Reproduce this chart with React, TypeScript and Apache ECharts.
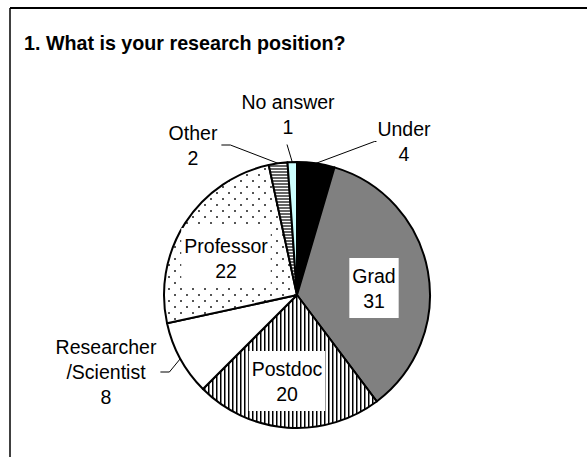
import React, { useEffect, useRef } from "react";
import * as echarts from "echarts";

// ---- data ----
const categories = ["Under", "Grad", "Postdoc", "Researcher\n/Scientist", "Professor", "Other", "No answer"];
const counts = [4, 31, 20, 8, 22, 2, 1];
const titleText = "1. What is your research position?";

// ---- layout (label centres, px) ----
const labelCenters: [number, number][] = [
  [404, 141.5],
  [374, 288],
  [287, 381],
  [106, 372],
  [226, 258],
  [193, 145],
  [288, 114.5],
];
// "in" = label inside slice with white box; others indicate side the leader line leaves
const labelSide = ["left", "in", "in", "right", "in", "right", "bottom"];

const FONT = "'Liberation Sans', Arial, Helvetica, sans-serif";

function makeCanvas(w: number, h: number, draw: (ctx: CanvasRenderingContext2D) => void) {
  const c = document.createElement("canvas");
  c.width = w;
  c.height = h;
  const ctx = c.getContext("2d")!;
  draw(ctx);
  return c;
}

function buildFills(): any[] {
  const vStripes = makeCanvas(4, 4, (ctx) => {
    ctx.fillStyle = "#fff";
    ctx.fillRect(0, 0, 4, 4);
    ctx.fillStyle = "#000";
    ctx.fillRect(0, 0, 1, 4);
    ctx.fillStyle = "#808080";
    ctx.fillRect(1, 0, 1, 4);
  });
  const dots = makeCanvas(12, 12, (ctx) => {
    ctx.fillStyle = "#fff";
    ctx.fillRect(0, 0, 12, 12);
    ctx.fillStyle = "#555";
    ctx.fillRect(0, 0, 2, 2);
    ctx.fillRect(6, 6, 2, 2);
  });
  const hStripes = makeCanvas(3, 3, (ctx) => {
    ctx.fillStyle = "#fff";
    ctx.fillRect(0, 0, 3, 3);
    ctx.fillStyle = "#666";
    ctx.fillRect(0, 0, 3, 2);
  });
  const pat = (c: HTMLCanvasElement) => ({
    image: c,
    repeat: "repeat",
    imageWidth: c.width,
    imageHeight: c.height,
  });
  return ["#000000", "#808080", pat(vStripes), "#ffffff", pat(dots), pat(hStripes), "#ccffff"];
}

export default function App() {
  const ref = useRef<HTMLDivElement>(null);

  useEffect(() => {
    if (!ref.current) return;
    const chart = echarts.init(ref.current, null, { renderer: "svg" });
    const fills = buildFills();

    const data = categories.map((name, i) => {
      const inside = labelSide[i] === "in";
      return {
        name,
        value: counts[i],
        itemStyle: { color: fills[i] },
        label: inside
          ? { position: "inside", backgroundColor: "#fff", padding: [5, 3] }
          : { position: "outside" },
        labelLine: { show: !inside },
      };
    });

    chart.setOption({
      animation: false,
      backgroundColor: "#fff",
      title: {
        text: titleText,
        left: 24,
        top: 33,
        padding: 0,
        textStyle: { fontFamily: FONT, fontSize: 19.7, fontWeight: "bold", color: "#000" },
      },
      graphic: [
        {
          type: "line",
          shape: { x1: 10, y1: 8, x2: 587, y2: 8 },
          style: { stroke: "#000", lineWidth: 2 },
          silent: true,
        },
        {
          type: "line",
          shape: { x1: 10, y1: 8, x2: 10, y2: 457 },
          style: { stroke: "#000", lineWidth: 1.5 },
          silent: true,
        },
      ],
      series: [
        {
          type: "pie",
          center: [297, 295],
          radius: 133,
          startAngle: 90,
          clockwise: true,
          avoidLabelOverlap: false,
          emphasis: { disabled: true },
          itemStyle: { borderColor: "#000", borderWidth: 2 },
          label: {
            show: true,
            formatter: "{b}\n{c}",
            fontFamily: FONT,
            fontSize: 19.5,
            lineHeight: 25,
            color: "#000",
          },
          labelLine: {
            show: true,
            length: 10,
            length2: 10,
            lineStyle: { color: "#000", width: 1 },
          },
          labelLayout: (params: any) => {
            const i = params.dataIndex;
            const [x, y] = labelCenters[i];
            const w = params.labelRect.width;
            const h = params.labelRect.height;
            const res: any = { x, y, align: "center", verticalAlign: "middle" };
            const pts = params.labelLinePoints;
            if (pts && pts.length && labelSide[i] !== "in") {
              const a = pts[0];
              const side = labelSide[i];
              if (side === "left") {
                const lx = x - w / 2;
                res.labelLinePoints = [a, [lx - 3, y], [lx - 1, y]];
              } else if (side === "right") {
                const rx = x + w / 2;
                res.labelLinePoints = [a, [rx + 13, y], [rx + 4, y]];
              } else {
                const by = y + h / 2;
                res.labelLinePoints = [a, [a[0] - 1.5, a[1] - 5], [x - 1, by + 5]];
              }
            }
            return res;
          },
          data,
        },
      ],
    });

    return () => chart.dispose();
  }, []);

  return (
    <div
      ref={ref}
      style={{ position: "absolute", left: 0, top: 0, width: 587, height: 457, background: "#fff" }}
    />
  );
}
